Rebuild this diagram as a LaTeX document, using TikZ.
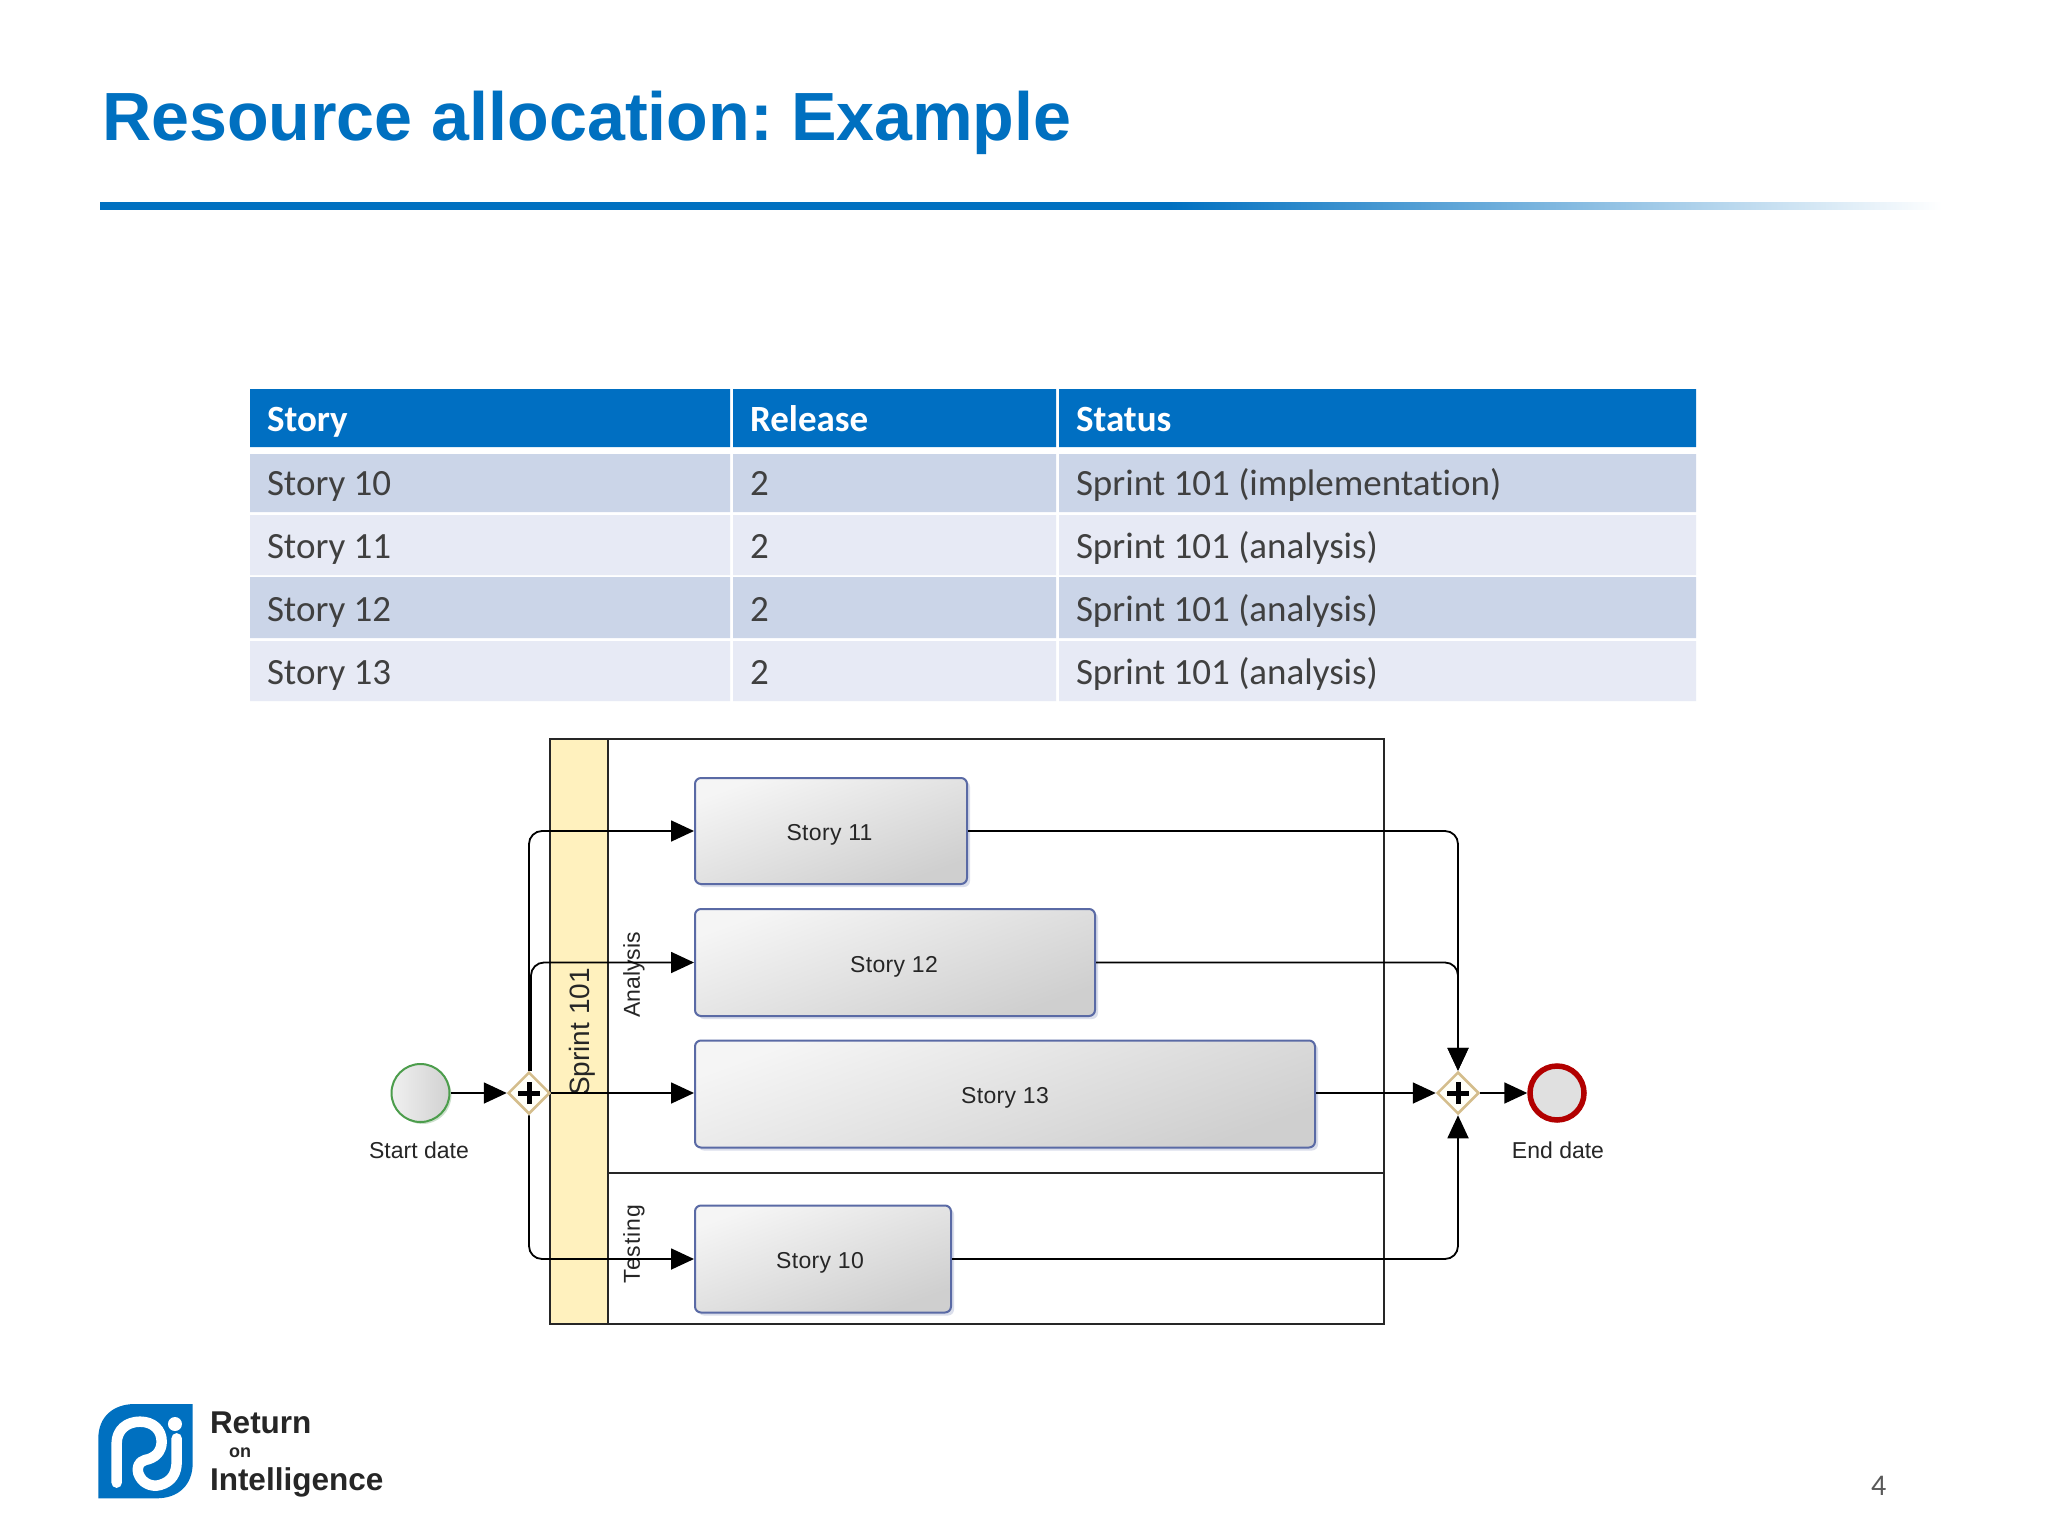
\documentclass[tikz,border=0pt]{standalone}
\usepackage{fontspec}
\setmainfont{Liberation Sans}
\newfontfamily\carlitofont[Ligatures=NoCommon]{Carlito}
\usetikzlibrary{arrows.meta,shapes.geometric,shadows}
\definecolor{brand}{HTML}{0070C0}
\definecolor{hdr}{HTML}{006FC2}
\definecolor{rowa}{HTML}{CBD5E8}
\definecolor{rowb}{HTML}{E7EAF5}
\definecolor{celltext}{HTML}{404040}
\definecolor{lane}{HTML}{FFF1BE}
\definecolor{taskedge}{HTML}{5A6AA5}
\definecolor{gwedge}{HTML}{D4BD8C}
\pgfdeclarehorizontalshading{rulefade}{100bp}{color(0bp)=(brand); color(25bp)=(brand); color(54bp)=(brand); color(75bp)=(white); color(100bp)=(white)}
\newcommand{\fs}[1]{\fontsize{#1}{#1}\selectfont}
\newcommand{\plusmark}[1]{\draw[line width=5pt,black] ([xshift=-11pt]#1.center) -- ([xshift=11pt]#1.center) ([yshift=-11pt]#1.center) -- ([yshift=11pt]#1.center);}
\newcommand{\tasklabel}[2]{\hspace*{#1}\raisebox{-9.5pt}[0pt][0pt]{\addfontfeatures{LetterSpace=1.5}#2}}
\tikzset{
  x=1pt,y=-1pt,
  txt/.style={inner sep=0,outer sep=0,anchor=base west},
  headtxt/.style={txt,text=white,font=\carlitofont\bfseries\fs{37}},
  celltxt/.style={txt,text=celltext,font=\carlitofont\fs{37}},
  task/.style={draw=taskedge,line width=2pt,rounded corners=6pt,left color=white!96!black,right color=black!19,shading angle=20,
    inner sep=0,anchor=north west,font=\fs{23},text=black!85,
    drop shadow={shadow xshift=3pt,shadow yshift=-3pt,opacity=.22,fill=taskedge}},
  gate/.style={diamond,draw=gwedge,line width=2.5pt,fill=white!97!yellow,inner sep=0,minimum width=42pt,minimum height=42pt},
  flow/.style={draw=black,line width=1.8pt,rounded corners=13pt,-{Triangle[length=23pt,width=21pt]}},
  lanelabel/.style={rotate=90,inner sep=0,font=\fs{23},text=black!85},
  evlabel/.style={inner sep=0,anchor=base,font=\fs{23},text=black!85},
  pooledge/.style={draw=black!85,line width=2pt},
}
\begin{document}
\begin{tikzpicture}
\useasboundingbox[fill=white] (0,0) rectangle (2048,1536);
% title
\node[txt,text=brand,font=\bfseries\fs{68.2}] (title) at (102,141) {Resource allocation:\kern-7pt{} Example};
\shade[shading=rulefade] (100,202) rectangle (1942,209);
% table
\fill[hdr] (250,389) rectangle (730,447) (733,389) rectangle (1056,447) (1059,389) rectangle (1696,447);
\fill[rowa] (250,454) rectangle (730,512) (733,454) rectangle (1056,512) (1059,454) rectangle (1696,512);
\fill[rowb] (250,515) rectangle (730,575) (733,515) rectangle (1056,575) (1059,515) rectangle (1696,575);
\fill[rowa] (250,577) rectangle (730,638) (733,577) rectangle (1056,638) (1059,577) rectangle (1696,638);
\fill[rowb] (250,641) rectangle (730,701) (733,641) rectangle (1056,701) (1059,641) rectangle (1696,701);
\node[headtxt] (h1) at (267,431) {Story};
\node[headtxt] (h2) at (750,431) {Release};
\node[headtxt] (h3) at (1076,431) {Status};
\node[celltxt] (a1) at (267,495) {Story 10};
\node[celltxt] (a2) at (750,495) {2};
\node[celltxt] (a3) at (1076,495) {Sprint 101 (implementation)};
\node[celltxt] (b1) at (267,558) {Story 11};
\node[celltxt] (b2) at (750,558) {2};
\node[celltxt] (b3) at (1076,558) {Sprint 101 (analysis)};
\node[celltxt] (c1) at (267,621) {Story 12};
\node[celltxt] (c2) at (750,621) {2};
\node[celltxt] (c3) at (1076,621) {Sprint 101 (analysis)};
\node[celltxt] (d1) at (267,684) {Story 13};
\node[celltxt] (d2) at (750,684) {2};
\node[celltxt] (d3) at (1076,684) {Sprint 101 (analysis)};
% pool
\fill[lane] (550,739) rectangle (608,1324);
\draw[pooledge] (550,739) rectangle (1384,1324);
\draw[pooledge] (608,739) -- (608,1324);
\draw[pooledge] (608,1173) -- (1384,1173);
\node[rotate=90,inner sep=0,font=\fs{28},text=black!85] (sprint) at (582,1032) {Sprint 101};
\node[lanelabel] (analysis) at (634,975) {Analysis};
\node[lanelabel] (testing) at (634,1244) {\addfontfeatures{LetterSpace=4}Testing};
% tasks
\node[task,minimum width=272pt,minimum height=106pt] (t11) at (694,777) {\tasklabel{-3pt}{Story 11}};
\node[task,minimum width=400pt,minimum height=107pt] (t12) at (694,908) {\tasklabel{-2pt}{Story 12}};
\node[task,minimum width=620pt,minimum height=107pt] (t13) at (694,1039.5) {\tasklabel{0pt}{Story 13}};
\node[task,minimum width=256pt,minimum height=107pt] (t10) at (694,1204.5) {\tasklabel{-6pt}{Story 10}};
% events and gateways
\node[circle,draw=green!45!black!70,line width=2pt,left color=white!94!black,right color=black!18,minimum size=58pt,inner sep=0,
  drop shadow={shadow xshift=2pt,shadow yshift=-2pt,opacity=.2,fill=green!40!black}] (start) at (420.5,1093) {};
\node[evlabel] (startlabel) at (419,1158) {Start date};
\node[gate] (g1) at (529,1093) {};
\node[gate] (g2) at (1458,1093) {};
\node[circle,draw=red!70!black,line width=5.5pt,fill=black!12,minimum size=54pt,inner sep=0,
  drop shadow={shadow xshift=2pt,shadow yshift=-2pt,opacity=.2,fill=red!60!black}] (end) at (1557,1093) {};
\node[evlabel] (endlabel) at (1558,1158) {End date};
% connectors
\draw[flow] (start) -- (g1);
\draw[flow] (g1.north) |- (t11.west);
\draw[flow] ([xshift=2pt]g1.north) |- (t12.west);
\draw[flow] (g1.east) -- (g1.east -| t13.west);
\draw[flow] (g1.south) |- (t10.west);
\draw[flow] (t11.east) -| (g2.north);
\draw[flow] (t12.east) -| (g2.north);
\draw[flow] (g2.west -| t13.east) -- (g2.west);
\draw[flow] (t10.east) -| (g2.south);
\draw[flow] (g2.east) -- (end.west);
\plusmark{g1}
\plusmark{g2}
% logo
\begin{scope}[shift={(80,1380)},x=0.3333pt,y=-0.3333pt]
  \fill[brand] (55,355) -- (55,175) .. controls (55,110) and (100,72) .. (165,72) -- (338,72) -- (338,250) .. controls (338,315) and (295,355) .. (230,355) -- cycle;
  \draw[white,line width=10.5pt,line cap=round,line join=round] (110,308) -- (110,190) .. controls (110,150) and (140,125) .. (180,125) .. controls (220,125) and (245,150) .. (245,185) .. controls (245,215) and (225,235) .. (195,240) .. controls (175,245) and (170,265) .. (175,280) .. controls (185,310) and (215,322) .. (240,315) .. controls (275,305) and (290,280) .. (290,245) -- (290,175);
  \fill[white] (285,132) circle[radius=21];
\end{scope}
\node[txt,text=black!85,font=\bfseries\fs{31.5}] (l1) at (210,1433) {Return};
\node[txt,text=black!85,font=\bfseries\fs{18}] (l2) at (229,1457) {on};
\node[txt,text=black!85,font=\bfseries\fs{31.5}] (l3) at (210,1490) {Intelligence};
\node[txt,text=black!65,font=\carlitofont\fs{30}] (page) at (1871,1495) {4};
\end{tikzpicture}
\end{document}
